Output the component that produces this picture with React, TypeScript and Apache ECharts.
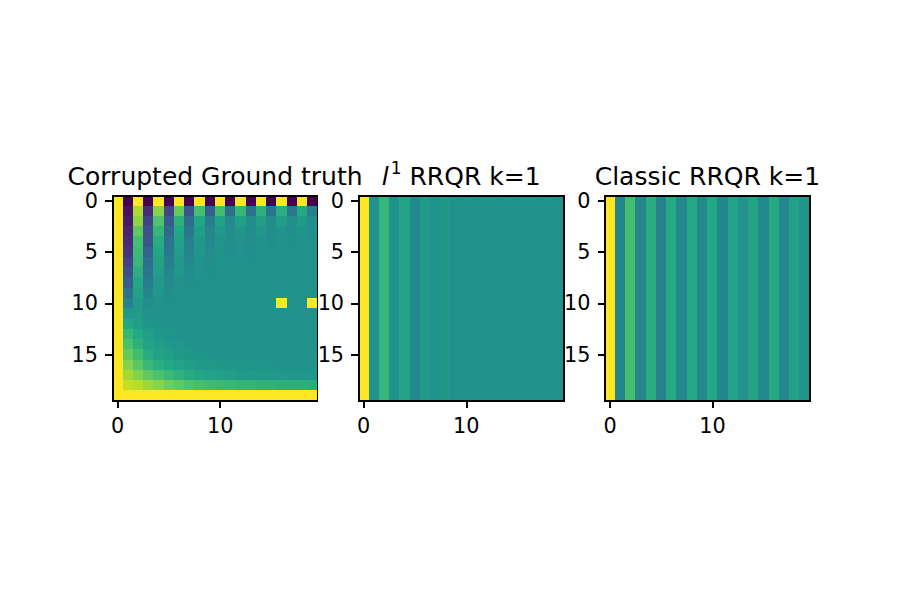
import React, { useEffect, useRef } from 'react';
import * as echarts from 'echarts';

const CATEGORIES = ['0', '1', '2', '3', '4', '5', '6', '7', '8', '9', '10', '11', '12', '13', '14', '15', '16', '17', '18', '19'];
const X_TICK_LABELS = ['0', '10'];
const Y_TICK_LABELS = ['0', '5', '10', '15'];
const TITLES = ['Corrupted Ground truth', '{it|l}{sup|1}{txt| RRQR k=1}', 'Classic RRQR k=1'];

// Corrupted ground truth matrix (rows top->bottom), colour scale -1..1
const GROUND_TRUTH = [
  [1, -1, 1, -1, 1, -1, 1, -1, 1, -1, 1, -1, 1, -1, 1, -1, 1, -1, 1, -1],
  [1, -0.9, 0.74, -0.74, 0.64, -0.6, 0.52, -0.5, 0.4, -0.4, 0.38, -0.28, 0.32, -0.26, 0.28, -0.24, 0.26, -0.22, 0.2, -0.16],
  [1, -0.86, 0.66, -0.6, 0.44, -0.44, 0.28, -0.3, 0.18, -0.16, 0.14, -0.06, 0.12, -0.04, 0.1, -0.04, 0.1, -0.02, 0.08, -0.02],
  [1, -0.8, 0.5, -0.5, 0.32, -0.32, 0.2, -0.2, 0.1, -0.1, 0.06, -0.04, 0.05, -0.03, 0.04, -0.02, 0.03, -0.02, 0.02, -0.01],
  [1, -0.76, 0.4, -0.46, 0.24, -0.24, 0.14, -0.14, 0.06, -0.06, 0.03, -0.02, 0.02, -0.02, 0.02, -0.01, 0.01, -0.01, 0.01, 0],
  [1, -0.7, 0.36, -0.36, 0.18, -0.2, 0.1, -0.1, 0.04, -0.04, 0.02, -0.01, 0.01, -0.01, 0.01, 0, 0, 0, 0, 0],
  [1, -0.6, 0.32, -0.28, 0.14, -0.14, 0.06, -0.06, 0.02, -0.02, 0.01, 0, 0, 0, 0, 0, 0, 0, 0, 0],
  [1, -0.5, 0.26, -0.22, 0.1, -0.1, 0.04, -0.04, 0.01, -0.01, 0, 0, 0, 0, 0, 0, 0, 0, 0, 0],
  [1, -0.4, 0.2, -0.16, 0.06, -0.06, 0.02, -0.02, 0, 0, 0, 0, 0, 0, 0, 0, 0, 0, 0, 0],
  [1, -0.26, 0.14, -0.1, 0.04, -0.02, 0.01, 0, 0, 0, 0, 0, 0, 0, 0, 0, 0, 0, 0, 0],
  [1, -0.12, 0.08, -0.04, 0.02, 0, 0, 0, 0, 0, 0, 0, 0, 0, 0, 0, 1, 0, 0, 1],
  [1, 0.06, 0.08, 0.02, 0.01, 0, 0, 0, 0, 0, 0, 0, 0, 0, 0, 0, 0, 0, 0, 0],
  [1, 0.2, 0.12, 0.05, 0.02, 0.01, 0, 0, 0, 0, 0, 0, 0, 0, 0, 0, 0, 0, 0, 0],
  [1, 0.32, 0.2, 0.1, 0.05, 0.03, 0.01, 0, 0, 0, 0, 0, 0, 0, 0, 0, 0, 0, 0, 0],
  [1, 0.42, 0.28, 0.15, 0.1, 0.06, 0.04, 0.02, 0.01, 0.01, 0, 0, 0, 0, 0, 0, 0, 0, 0, 0],
  [1, 0.52, 0.38, 0.24, 0.16, 0.11, 0.07, 0.05, 0.03, 0.02, 0.02, 0.01, 0.01, 0.01, 0.01, 0.01, 0.01, 0.01, 0.01, 0.01],
  [1, 0.62, 0.48, 0.34, 0.26, 0.2, 0.15, 0.1, 0.08, 0.06, 0.05, 0.04, 0.04, 0.03, 0.03, 0.03, 0.02, 0.02, 0.02, 0.02],
  [1, 0.72, 0.62, 0.5, 0.42, 0.34, 0.28, 0.22, 0.18, 0.15, 0.12, 0.1, 0.09, 0.08, 0.07, 0.06, 0.06, 0.05, 0.05, 0.04],
  [1, 0.82, 0.78, 0.7, 0.64, 0.56, 0.5, 0.44, 0.4, 0.36, 0.34, 0.32, 0.3, 0.3, 0.28, 0.28, 0.26, 0.26, 0.26, 0.24],
  [1, 1, 1, 1, 1, 1, 1, 1, 1, 1, 1, 1, 1, 1, 1, 1, 1, 1, 1, 1],
];

// rank-1 reconstructions: every row equals this column profile
const L1_RRQR_COLUMNS = [1, 0, 0.32, 0, 0.16, -0.06, 0.08, 0, 0.05, 0, 0.02, 0, 0.02, 0, 0.01, 0, 0.01, 0, 0.01, 0];
const CLASSIC_RRQR_COLUMNS = [1, -0.08, 0.4, -0.1, 0.24, -0.14, 0.22, -0.06, 0.2, -0.06, 0.2, -0.08, 0.16, 0.02, 0.16, -0.06, 0.22, -0.08, 0.14, 0.04];

const VIRIDIS = ['#440154', '#482475', '#414487', '#355f8d', '#2a788e', '#21918c', '#22a884', '#44bf70', '#7ad151', '#bddf26', '#fde725'];

const FONT = 'DejaVu Sans';
const PANEL_LEFTS = [112.5, 358.6, 604.9];
const PANEL_TOP = 195.7;
const PANEL_SIZE = 205.1;
const LW = 1.67;

function matrixCells(matrix: number[][]) {
  const out: number[][] = [];
  matrix.forEach((row, r) => row.forEach((v, c) => out.push([c, r, v])));
  return out;
}
function columnCells(cols: number[]) {
  const out: number[][] = [];
  CATEGORIES.forEach((_, r) => cols.forEach((v, c) => out.push([c, r, v])));
  return out;
}

export default function App() {
  const ref = useRef<HTMLDivElement>(null);
  useEffect(() => {
    if (!ref.current) return;
    const chart = echarts.init(ref.current, undefined, { renderer: 'svg' });
    const datasets = [matrixCells(GROUND_TRUTH), columnCells(L1_RRQR_COLUMNS), columnCells(CLASSIC_RRQR_COLUMNS)];
    const xShow = (i: number) => X_TICK_LABELS.includes(CATEGORIES[i]);
    const yShow = (i: number) => Y_TICK_LABELS.includes(CATEGORIES[i]);
    const axisCommon = {
      type: 'category',
      data: CATEGORIES,
      z: 5,
      axisLine: { show: true, lineStyle: { color: '#000', width: LW } },
      splitLine: { show: false },
      splitArea: { show: false },
    };
    const option: any = {
      animation: false,
      grid: PANEL_LEFTS.map((left) => ({ left, top: PANEL_TOP, width: PANEL_SIZE, height: PANEL_SIZE, containLabel: false })),
      xAxis: PANEL_LEFTS.map((_, i) => ({
        ...axisCommon,
        gridIndex: i,
        position: 'bottom',
        axisTick: { show: true, alignWithLabel: true, length: 7.3, interval: xShow, lineStyle: { color: '#000', width: LW } },
        axisLabel: { interval: xShow, color: '#000', fontSize: 20.8, fontFamily: FONT, margin: 15 },
      })),
      yAxis: PANEL_LEFTS.map((_, i) => ({
        ...axisCommon,
        gridIndex: i,
        inverse: true,
        axisTick: { show: true, alignWithLabel: true, length: 7.3, interval: yShow, lineStyle: { color: '#000', width: LW } },
        axisLabel: { interval: yShow, color: '#000', fontSize: 20.8, fontFamily: FONT, margin: 14.5 },
      })),
      visualMap: {
        type: 'continuous',
        show: false,
        min: -1,
        max: 1,
        dimension: 2,
        seriesIndex: [0, 1, 2],
        inRange: { color: VIRIDIS },
      },
      series: datasets.map((data, i) => ({
        type: 'heatmap',
        xAxisIndex: i,
        yAxisIndex: i,
        data,
        itemStyle: { borderWidth: 0 },
        emphasis: { disabled: true },
        progressive: 0,
      })),
      graphic: [
        ...PANEL_LEFTS.map((left) => ({
          type: 'rect',
          z: 100,
          silent: true,
          shape: { x: left, y: PANEL_TOP, width: PANEL_SIZE, height: PANEL_SIZE },
          style: { fill: 'none', stroke: '#000', lineWidth: LW },
        })),
        ...PANEL_LEFTS.map((left, i) => ({
          type: 'text',
          z: 100,
          x: left + PANEL_SIZE / 2,
          y: PANEL_TOP - 7,
          style: {
            text: TITLES[i],
            fontSize: 25,
            fontFamily: FONT,
            fill: '#000',
            align: 'center',
            verticalAlign: 'bottom',
            rich: {
              it: { fontSize: 25, lineHeight: 30, fontFamily: FONT, fontStyle: 'italic', fill: '#000', verticalAlign: 'bottom' },
              txt: { fontSize: 25, lineHeight: 30, fontFamily: FONT, fill: '#000', verticalAlign: 'bottom' },
              sup: { fontSize: 17, lineHeight: 17, fontFamily: FONT, fill: '#000', verticalAlign: 'top', padding: [1, 0, 0, 2] },
            },
          },
        })),
      ],
    };
    chart.setOption(option);
    return () => chart.dispose();
  }, []);
  return (
    <div style={{ position: 'fixed', left: 0, top: 0, width: 900, height: 600, background: '#fff' }}>
      <style>{'.chart-box svg path { shape-rendering: crispEdges; }'}</style>
      <div ref={ref} className="chart-box" style={{ width: 900, height: 600 }} />
    </div>
  );
}
